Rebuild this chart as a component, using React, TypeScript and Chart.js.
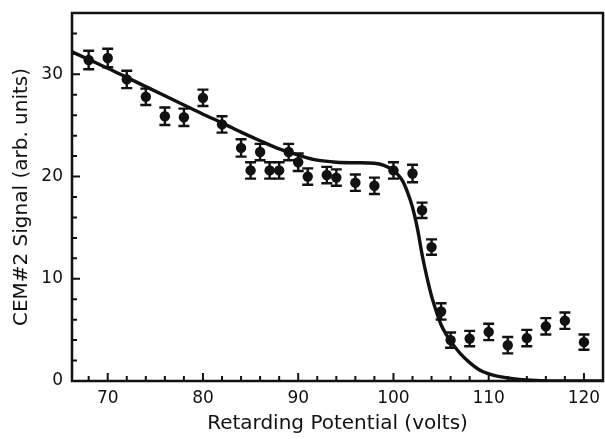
import React, { useEffect, useRef } from "react";
import { Chart, registerables } from "chart.js";

Chart.register(...registerables);

// Measured data points (Retarding potential in volts, CEM#2 signal)
const pointX = [68, 70, 72, 74, 76, 78, 80, 82, 84, 85, 86, 87, 88, 89, 90, 91, 93, 94, 96, 98, 100, 102, 103, 104, 105, 106, 108, 110, 112, 114, 116, 118, 120];
const pointY = [31.4, 31.6, 29.5, 27.8, 25.9, 25.8, 27.7, 25.1, 22.8, 20.6, 22.4, 20.6, 20.6, 22.4, 21.4, 20.0, 20.15, 19.9, 19.4, 19.1, 20.6, 20.3, 16.7, 13.1, 6.8, 4.0, 4.15, 4.8, 3.5, 4.2, 5.35, 5.9, 3.8];
const pointErr = [0.9, 0.9, 0.85, 0.8, 0.85, 0.85, 0.8, 0.8, 0.85, 0.8, 0.8, 0.8, 0.8, 0.8, 0.85, 0.8, 0.8, 0.8, 0.8, 0.8, 0.8, 0.85, 0.75, 0.75, 0.8, 0.75, 0.75, 0.8, 0.8, 0.8, 0.8, 0.8, 0.75];

// Fitted curve
const fitX = [66.25, 68, 70, 72, 74, 76, 78, 80, 82, 84, 86, 88, 90, 92, 94, 96, 98, 99, 100, 100.5, 101, 101.5, 102, 102.5, 103, 103.5, 104, 104.5, 105, 105.5, 106, 107, 108, 109, 110, 111, 112, 113, 114, 115, 116, 117, 122];
const fitY = [32.2, 31.45, 30.6, 29.7, 28.8, 27.9, 27.0, 26.1, 25.25, 24.35, 23.5, 22.7, 22.1, 21.6, 21.4, 21.35, 21.3, 21.1, 20.6, 20.15, 19.5, 18.4, 17.0, 15.0, 12.4, 10.2, 8.3, 6.8, 5.5, 4.6, 3.9, 2.7, 1.8, 1.1, 0.7, 0.45, 0.3, 0.18, 0.1, 0.05, 0.02, 0, 0];

// Axis ticks
const xMajorTicks = [70, 80, 90, 100, 110, 120];
const xMinorTicks = [68, 72, 74, 76, 78, 82, 84, 86, 88, 92, 94, 96, 98, 102, 104, 106, 108, 112, 114, 116, 118];
const yMajorTicks = [0, 10, 20, 30];
const yMinorTicks = [2, 4, 6, 8, 12, 14, 16, 18, 22, 24, 26, 28, 32, 34];

const INK = "#111";
const FONT = "'DejaVu Sans', sans-serif";

const errorBarPlugin = {
  id: "errorBars",
  beforeDatasetsDraw(chart: any) {
    const { ctx, scales } = chart;
    const x = scales.x;
    const y = scales.y;
    ctx.save();
    ctx.strokeStyle = INK;
    ctx.lineWidth = 2.4;
    const cap = 5.5;
    for (let i = 0; i < pointX.length; i++) {
      const px = x.getPixelForValue(pointX[i]);
      const pt = y.getPixelForValue(pointY[i] + pointErr[i]);
      const pb = y.getPixelForValue(pointY[i] - pointErr[i]);
      ctx.beginPath();
      ctx.moveTo(px, pt);
      ctx.lineTo(px, pb);
      ctx.moveTo(px - cap, pt);
      ctx.lineTo(px + cap, pt);
      ctx.moveTo(px - cap, pb);
      ctx.lineTo(px + cap, pb);
      ctx.stroke();
    }
    ctx.restore();
  },
};

const framePlugin = {
  id: "frame",
  afterDraw(chart: any) {
    const { ctx, chartArea, scales } = chart;
    const { left, right, top, bottom } = chartArea;
    ctx.save();
    ctx.strokeStyle = INK;
    ctx.lineWidth = 2;
    ctx.beginPath();
    const drawX = (v: number, len: number) => {
      const px = scales.x.getPixelForValue(v);
      ctx.moveTo(px, bottom);
      ctx.lineTo(px, bottom - len);
    };
    const drawY = (v: number, len: number) => {
      const py = scales.y.getPixelForValue(v);
      ctx.moveTo(left, py);
      ctx.lineTo(left + len, py);
    };
    xMajorTicks.forEach((v) => drawX(v, 8));
    xMinorTicks.forEach((v) => drawX(v, 5));
    yMajorTicks.forEach((v) => drawY(v, 8));
    yMinorTicks.forEach((v) => drawY(v, 5));
    ctx.stroke();
    ctx.lineWidth = 2.5;
    ctx.strokeRect(left, top, right - left, bottom - top);
    ctx.restore();
  },
};

export default function App() {
  const canvasRef = useRef<HTMLCanvasElement | null>(null);

  useEffect(() => {
    if (!canvasRef.current) return;
    const chart = new Chart(canvasRef.current, {
      type: "scatter",
      data: {
        datasets: [
          {
            label: "data",
            data: pointX.map((x, i) => ({ x, y: pointY[i] })),
            backgroundColor: INK,
            borderColor: INK,
            pointRadius: 5.2,
            pointBorderWidth: 0,
            showLine: false,
          },
          {
            label: "fit",
            data: fitX.map((x, i) => ({ x, y: fitY[i] })),
            borderColor: INK,
            borderWidth: 3.4,
            pointRadius: 0,
            showLine: true,
            cubicInterpolationMode: "monotone",
            fill: false,
          },
        ],
      },
      options: {
        animation: false,
        responsive: false,
        maintainAspectRatio: false,
        layout: { autoPadding: false, padding: { top: 13, right: 2, left: 0, bottom: 0 } },
        plugins: {
          legend: { display: false },
          tooltip: { enabled: false },
        },
        scales: {
          x: {
            type: "linear",
            min: 66.25,
            max: 122,
            grid: { display: false, drawTicks: false },
            border: { display: false },
            afterFit(scale: any) {
              scale.height = 58;
              scale.paddingLeft = 0;
              scale.paddingRight = 0;
            },
            ticks: {
              stepSize: 10,
              includeBounds: false,
              padding: 7,
              color: INK,
              font: { family: FONT, size: 17 },
              maxRotation: 0,
            },
            title: {
              display: true,
              text: "Retarding Potential (volts)",
              color: INK,
              font: { family: FONT, size: 20 },
              padding: { top: 0, bottom: 3 },
            },
          },
          y: {
            type: "linear",
            min: 0,
            max: 36,
            grid: { display: false, drawTicks: false },
            border: { display: false },
            afterFit(scale: any) {
              scale.width = 72;
              scale.paddingTop = 0;
              scale.paddingBottom = 0;
            },
            ticks: {
              stepSize: 10,
              includeBounds: false,
              padding: 9,
              color: INK,
              font: { family: FONT, size: 17 },
            },
            title: {
              display: true,
              text: "CEM#2 Signal (arb. units)",
              color: INK,
              font: { family: FONT, size: 20 },
              padding: { top: 10, bottom: 0 },
            },
          },
        },
      },
      plugins: [errorBarPlugin, framePlugin],
    });
    return () => chart.destroy();
  }, []);

  return (
    <div style={{ position: "fixed", left: 0, top: 0, width: 605, height: 439, background: "#fff" }}>
      <canvas ref={canvasRef} width={605} height={439} />
    </div>
  );
}
